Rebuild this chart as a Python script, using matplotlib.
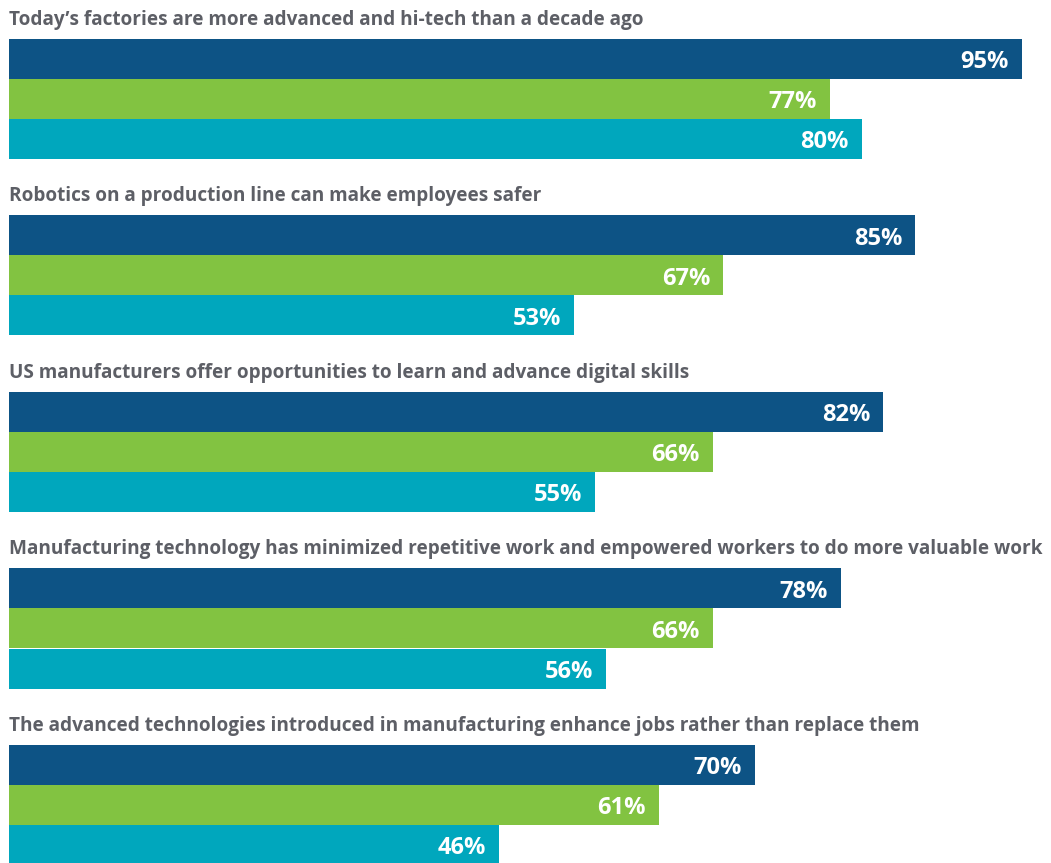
import matplotlib
matplotlib.use("Agg")
import matplotlib.pyplot as plt

# statements (one group of three bars each)
statements = [
    "Today\u2019s factories are more advanced and hi-tech than a decade ago",
    "Robotics on a production line can make employees safer",
    "US manufacturers offer opportunities to learn and advance digital skills",
    "Manufacturing technology has minimized repetitive work and empowered workers to do more valuable work",
    "The advanced technologies introduced in manufacturing enhance jobs rather than replace them",
]
series_dark = [95, 85, 82, 78, 70]
series_green = [77, 67, 66, 66, 61]
series_teal = [80, 53, 55, 56, 46]

colors = ["#0D5385", "#82C341", "#00A7BD"]
title_color = "#5D5F66"

fig = plt.figure(figsize=(10.51, 8.63), dpi=100)
ax = fig.add_axes([0, 0, 1, 1])

pitch = 4.4125     # group spacing in bar units (1 unit = 40 px)
first_top = 0.975  # top of first bar below the title

for g, title in enumerate(statements):
    vals = [series_dark[g], series_green[g], series_teal[g]]
    top = g * pitch + first_top
    ax.text(0, top - 0.36, title, ha="left", va="baseline", fontsize=13.7,
            fontweight="bold", color=title_color,
            family=["Open Sans", "DejaVu Sans"])
    for j, v in enumerate(vals):
        yc = top + 0.5 + j
        ax.barh(yc, v, height=1.0, color=colors[j], left=0, linewidth=0)
        ax.text(v - 1.25, yc + 0.08, f"{v}%", ha="right", va="center",
                fontsize=17, fontweight="bold", color="white",
                family=["Open Sans", "DejaVu Sans"])

ax.set_xlim(-9 / 10.663, (1051 - 9) / 10.663)
ax.set_ylim(863 / 40, 0)
ax.axis("off")

fig.savefig("out.png", dpi=100)
